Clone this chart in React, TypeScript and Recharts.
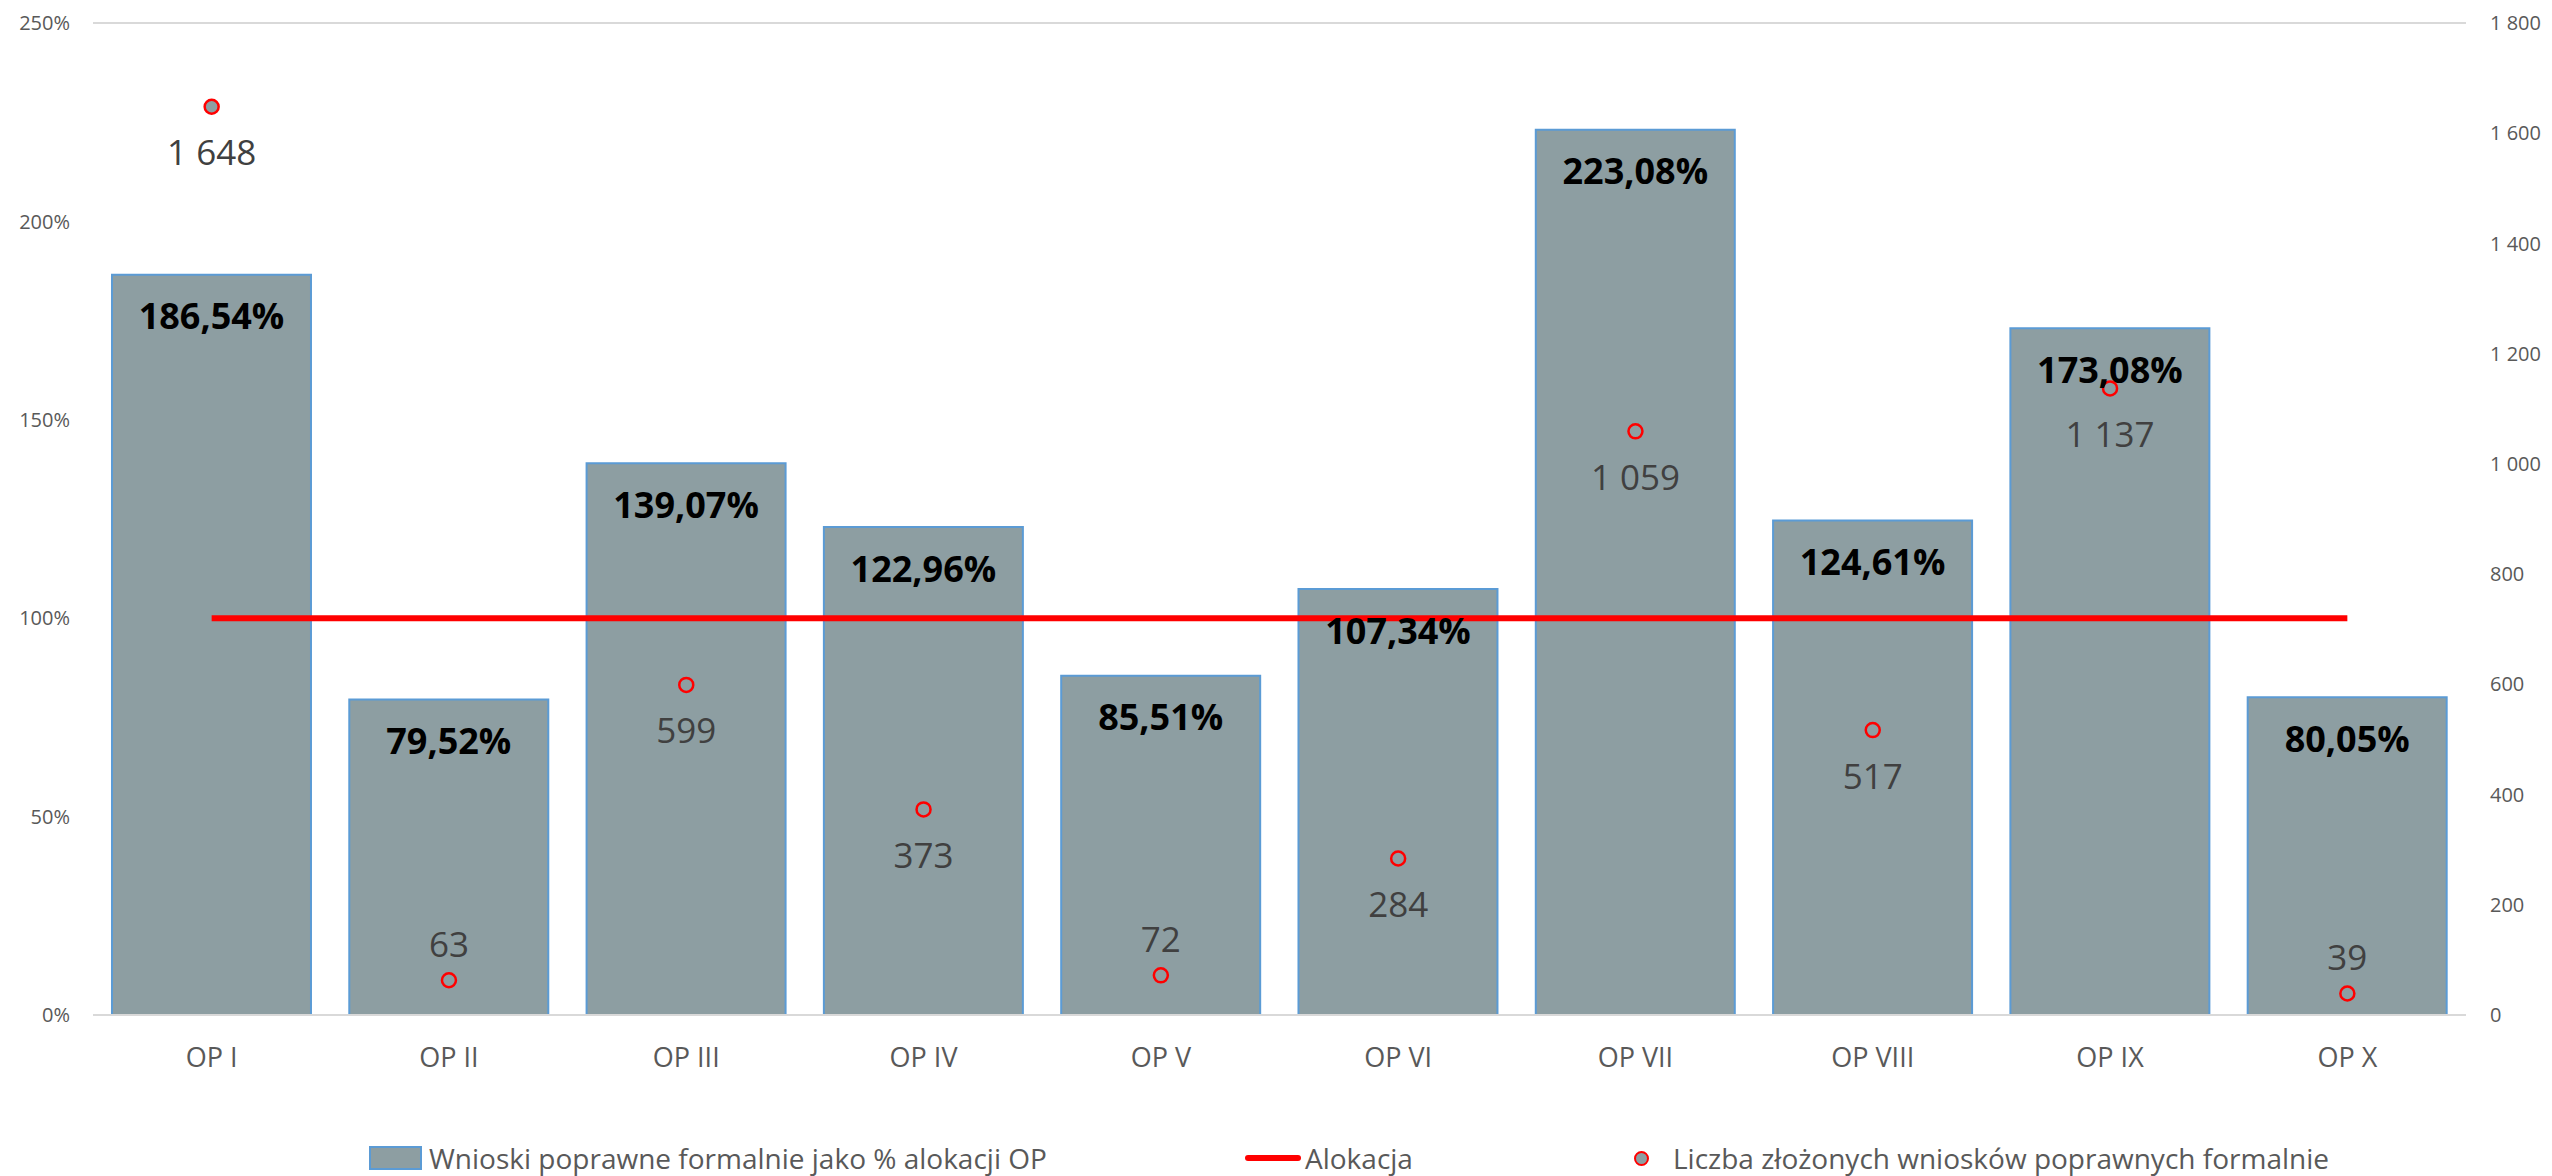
import { ComposedChart, Bar, Line, Scatter, XAxis, YAxis, CartesianGrid, LabelList } from 'recharts';

const categories = ['OP I', 'OP II', 'OP III', 'OP IV', 'OP V', 'OP VI', 'OP VII', 'OP VIII', 'OP IX', 'OP X'];
const pctOfAllocation = [1.8654, 0.7952, 1.3907, 1.2296, 0.8551, 1.0734, 2.2308, 1.2461, 1.7308, 0.8005];
const allocation = [1, 1, 1, 1, 1, 1, 1, 1, 1, 1];
const applications = [1648, 63, 599, 373, 72, 284, 1059, 517, 1137, 39];
const leftTicks = [0, 0.5, 1, 1.5, 2, 2.5];
const rightTicks = [0, 200, 400, 600, 800, 1000, 1200, 1400, 1600, 1800];

const data = categories.map((name, i) => ({
  name,
  pct: pctOfAllocation[i],
  alloc: allocation[i],
  count: applications[i],
}));

const W = 2552;
const H = 1176;
const TOP = 23;
const XAXIS_H = 161;
const PLOT_BOTTOM = H - XAXIS_H;

const FONT = '"Open Sans", "Noto Sans", sans-serif';
const GREY_TEXT = '#595959';
const BAR_FILL = '#8D9EA2';
const BAR_STROKE = '#5B9BD5';
const RED = '#FF0000';

const fmtPct = (v: number) => (v * 100).toFixed(2).replace('.', ',') + '%';
const fmtAxisPct = (v: number) => Math.round(v * 100) + '%';
const fmtThousands = (v: number) => String(v).replace(/\B(?=(\d{3})+(?!\d))/g, ' ');

const BarValueLabel = (props: any) => {
  const { x, y, width, value } = props;
  return (
    <text
      x={x + width / 2}
      y={y + 41}
      textAnchor="middle"
      dominantBaseline="central"
      fontFamily={FONT}
      fontWeight={700}
      fontSize={36}
      fill="#000"
    >
      {fmtPct(value)}
    </text>
  );
};

const CountLabel = (props: any) => {
  const { x = 0, y = 0, width = 0, height = 0, value } = props;
  const cx = x + width / 2;
  const cy = y + height / 2;
  // below the point unless it would fall off the plot area
  const ly = cy + 60 > PLOT_BOTTOM ? cy - 37 : cy + 45;
  return (
    <text
      x={cx}
      y={ly}
      textAnchor="middle"
      dominantBaseline="central"
      fontFamily={FONT}
      fontSize={35}
      fill="#404040"
    >
      {fmtThousands(value)}
    </text>
  );
};

const Dot = (p: any) => <circle cx={p.cx} cy={p.cy} r={7} fill={BAR_FILL} stroke={RED} strokeWidth={2.5} />;

const legendText = { fontFamily: FONT, fontSize: 28, lineHeight: '30px', color: GREY_TEXT, whiteSpace: 'nowrap' as const };

export default function App() {
  return (
    <div style={{ position: 'relative', width: W, height: H, background: '#fff', overflow: 'hidden' }}>
      <style>{'html,body{margin:0;padding:0;overflow:hidden}'}</style>
      <ComposedChart width={W} height={H} data={data} margin={{ top: TOP, right: 0, bottom: 0, left: 0 }} barCategoryGap="8%">
        <CartesianGrid vertical={false} stroke="#D9D9D9" strokeWidth={2} />
        <XAxis
          dataKey="name"
          height={XAXIS_H}
          axisLine={{ stroke: '#D9D9D9', strokeWidth: 2 }}
          tickLine={false}
          tickMargin={27}
          tick={{ fontFamily: FONT, fontSize: 27, fill: GREY_TEXT }}
          interval={0}
        />
        <YAxis
          yAxisId="left"
          width={93}
          domain={[0, 2.5]}
          ticks={leftTicks}
          tickFormatter={fmtAxisPct}
          axisLine={false}
          tickLine={false}
          tickMargin={17}
          tick={{ fontFamily: FONT, fontSize: 20, fill: GREY_TEXT }}
        />
        <YAxis
          yAxisId="right"
          orientation="right"
          width={86}
          domain={[0, 1800]}
          ticks={rightTicks}
          tickFormatter={fmtThousands}
          axisLine={false}
          tickLine={false}
          tickMargin={18}
          tick={{ fontFamily: FONT, fontSize: 20, fill: GREY_TEXT, textAnchor: 'start' }}
        />
        <Bar yAxisId="left" dataKey="pct" fill={BAR_FILL} stroke={BAR_STROKE} strokeWidth={2} isAnimationActive={false}>
          <LabelList dataKey="pct" content={BarValueLabel} />
        </Bar>
        <Line yAxisId="left" dataKey="alloc" stroke={RED} strokeWidth={6} dot={false} activeDot={false} isAnimationActive={false} />
        <Scatter yAxisId="right" dataKey="count" fill={BAR_FILL} shape={Dot} isAnimationActive={false}>
          <LabelList dataKey="count" content={CountLabel} />
        </Scatter>
      </ComposedChart>
      <div style={{ position: 'absolute', top: 1143, left: 0, width: W, height: 30 }}>
        <div style={{ position: 'absolute', left: 369, top: 0, display: 'flex', alignItems: 'center', height: 30 }}>
          <span style={{ display: 'inline-block', width: 49, height: 20, background: BAR_FILL, border: `2px solid ${BAR_STROKE}`, marginRight: 7 }} />
          <span style={legendText}>Wnioski poprawne formalnie jako % alokacji OP</span>
        </div>
        <div style={{ position: 'absolute', left: 1245, top: 0, display: 'flex', alignItems: 'center', height: 30 }}>
          <span style={{ display: 'inline-block', width: 56, height: 6, borderRadius: 3, background: RED, marginRight: 4 }} />
          <span style={legendText}>Alokacja</span>
        </div>
        <div style={{ position: 'absolute', left: 1634, top: 0, display: 'flex', alignItems: 'center', height: 30 }}>
          <span style={{ display: 'inline-block', width: 11, height: 11, borderRadius: '50%', background: BAR_FILL, border: `2px solid ${RED}`, marginRight: 24 }} />
          <span style={legendText}>Liczba złożonych wniosków poprawnych formalnie</span>
        </div>
      </div>
    </div>
  );
}
